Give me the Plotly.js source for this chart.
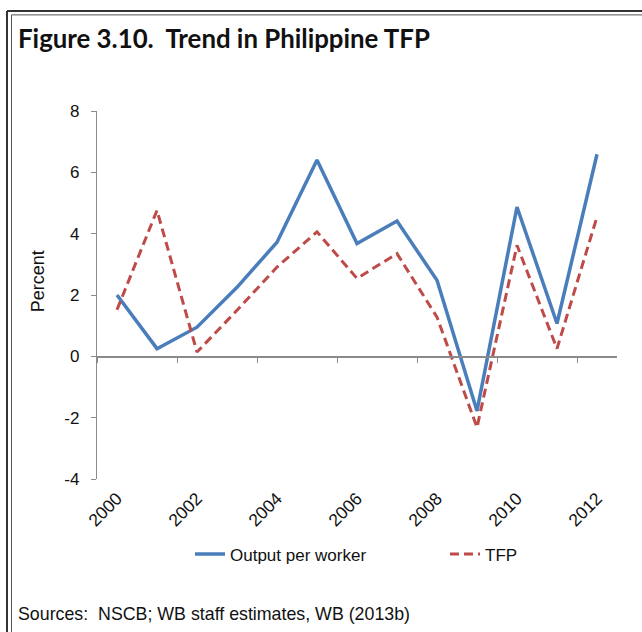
<!DOCTYPE html>
<html>
<head>
<meta charset="utf-8">
<script src="https://cdn.plot.ly/plotly-3.0.1.min.js"></script>
<style>
html,body{margin:0;padding:0;background:#fff;}
#chart{width:642px;height:632px;}
</style>
</head>
<body>
<div id="chart"></div>
<script>
const years = [2000,2001,2002,2003,2004,2005,2006,2007,2008,2009,2010,2011,2012];
const outputPerWorker = [2.0,0.25,0.95,2.25,3.72,6.4,3.68,4.41,2.48,-1.78,4.87,1.07,6.59];
const tfp = [1.52,4.76,0.14,1.5,2.91,4.06,2.54,3.35,1.28,-2.32,3.62,0.25,4.55];
const xTickYears = [2000,2002,2004,2006,2008,2010,2012];
const yTicks = [-4,-2,0,2,4,6,8];
const seriesNames = ["Output per worker","TFP"];
const yAxisLabel = "Percent";
const titleText = "Figure 3.10.&nbsp; Trend in Philippine TFP";
const sourceText = "Sources:&nbsp; NSCB; WB staff estimates, WB (2013b)";

const W = 642, H = 632;
const L = 97, R = 617, T = 111, B = 478.6;
const px = v => (v - L) / (R - L);
const py = v => (B - v) / (B - T);

const axisColor = '#8a8a8a';
const fam = '"Liberation Sans", Arial, sans-serif';
const font = {family: fam, size: 17, color: '#111'};

const traces = [
  {x: years, y: outputPerWorker, name: seriesNames[0], type: 'scatter', mode: 'lines',
   line: {color: '#4a7ebb', width: 3.5}, xaxis: 'x', yaxis: 'y', legend: 'legend'},
  {x: years, y: tfp, name: seriesNames[1], type: 'scatter', mode: 'lines',
   line: {color: '#be4b48', width: 3, dash: '9px,5px'}, xaxis: 'x2', yaxis: 'y', legend: 'legend2'}
];

const legendBase = {orientation: 'h', xanchor: 'left', yanchor: 'middle', font: font,
                    bgcolor: 'rgba(0,0,0,0)'};

const layout = {
  width: W, height: H,
  margin: {l: L, r: W - R, t: T, b: H - B},
  paper_bgcolor: '#fff', plot_bgcolor: '#fff',
  font: font,
  showlegend: true,
  legend: Object.assign({}, legendBase, {x: px(190), y: py(554)}),
  legend2: Object.assign({}, legendBase, {x: px(445), y: py(554)}),
  xaxis: {range: [1999.5, 2012.5], tickmode: 'array', tickvals: xTickYears,
          ticktext: xTickYears.map(String), tickangle: -45, ticks: '', showline: false,
          showgrid: false, zeroline: false, tickfont: {family: fam, size: 17.5, color: '#111'},
          ticklabelstandoff: 5},
  xaxis2: {matches: 'x', overlaying: 'x', anchor: 'free', position: 4/12,
           tickmode: 'linear', tick0: 1999.5, dtick: 2, ticks: 'outside', ticklen: 5,
           tickcolor: axisColor, tickwidth: 1, showticklabels: false, showline: true,
           linecolor: axisColor, linewidth: 1.2, showgrid: false, zeroline: false},
  yaxis: {range: [-4, 8], tickmode: 'array', tickvals: yTicks, ticktext: yTicks.map(String),
          ticks: 'outside', ticklen: 5, tickcolor: axisColor, showline: true,
          linecolor: axisColor, linewidth: 1.2, showgrid: false, zeroline: false,
          tickfont: font, ticklabelstandoff: 8},
  annotations: [
    {text: titleText, xref: 'paper', yref: 'paper', x: px(16), y: py(38), xanchor: 'left',
     yanchor: 'middle', showarrow: false,
     font: {family: 'Lato, "Open Sans", sans-serif', size: 25.8, color: '#111', weight: 'bold'}},
    {text: yAxisLabel, xref: 'paper', yref: 'paper', x: px(38), y: py(281), xanchor: 'center',
     yanchor: 'middle', textangle: -90, showarrow: false, font: {family: fam, size: 18, color: '#111'}},
    {text: sourceText, xref: 'paper', yref: 'paper', x: px(16), y: py(613), xanchor: 'left',
     yanchor: 'middle', showarrow: false, font: {family: fam, size: 17.8, color: '#111'}}
  ],
  shapes: [
    {type: 'line', xref: 'paper', yref: 'paper', x0: px(7), x1: px(700), y0: py(11), y1: py(11), line: {color: '#333', width: 2}},
    {type: 'line', xref: 'paper', yref: 'paper', x0: px(7), x1: px(7), y0: py(11), y1: py(700), line: {color: '#333', width: 2}},
    {type: 'line', xref: 'paper', yref: 'paper', x0: px(11.5), x1: px(700), y0: py(15), y1: py(15), line: {color: '#555', width: 1}},
    {type: 'line', xref: 'paper', yref: 'paper', x0: px(11.5), x1: px(11.5), y0: py(15), y1: py(700), line: {color: '#555', width: 1}}
  ]
};

Plotly.newPlot('chart', traces, layout, {displayModeBar: false, staticPlot: true});
</script>
</body>
</html>
